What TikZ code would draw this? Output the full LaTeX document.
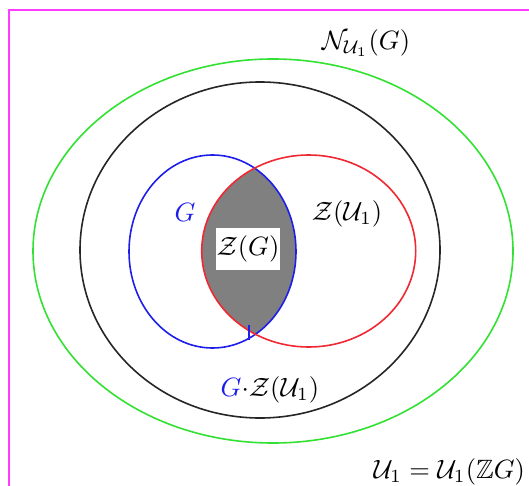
\documentclass[tikz,border=0pt]{standalone}
\usepackage{amssymb}
\begin{document}
\begin{tikzpicture}[x=1pt,y=-1pt,
  lbl/.style={inner sep=0pt,scale=2.65},
  ring/.style={line width=1.6pt}]
\definecolor{mag}{RGB}{255,60,255}
\definecolor{grn}{RGB}{50,225,50}
\definecolor{rd}{RGB}{240,40,50}
\definecolor{bl}{RGB}{30,30,235}
\definecolor{gr}{RGB}{128,128,128}
\useasboundingbox (0,0) rectangle (529,486);
% frame
\draw[mag,line width=2pt] (9,540) -- (9,10) -- (560,10);
% outer ellipses
\draw[ring,grn] (273,251) ellipse [x radius=240,y radius=192];
\draw[ring,black!85] (260,250) ellipse [x radius=180,y radius=168];
% lens
\begin{scope}
  \clip (212.5,251.5) ellipse [x radius=83.5,y radius=96.5];
  \fill[gr] (308.7,251) ellipse [x radius=107,y radius=96];
\end{scope}
\draw[ring,bl] (212.5,251.5) ellipse [x radius=83.5,y radius=96.5];
\draw[ring,rd] (308.7,251) ellipse [x radius=107,y radius=96];
\draw[bl,line width=1.2pt] (249,325) -- (249,340);
% labels
\node[lbl] (n) at (366,43) {$\mathcal{N}_{\mathcal{U}_1}(G)$};
\node[lbl,text=bl] (g) at (185,212) {$G$};
\node[lbl] (zu) at (347,214) {$\mathcal{Z}(\mathcal{U}_1)$};
\node[lbl,fill=white,minimum width=23.8pt,minimum height=15.8pt] (zg) at (248,249) {$\mathcal{Z}(G)$};
\node[lbl] (gz) at (270,390) {$\textcolor{bl}{G}{\cdot}\mathcal{Z}(\mathcal{U}_1)$};
\node[lbl,anchor=west] (u) at (373,472) {$\mathcal{U}_1=\mathcal{U}_1(\mathbb{Z}G)$};
\end{tikzpicture}
\end{document}
